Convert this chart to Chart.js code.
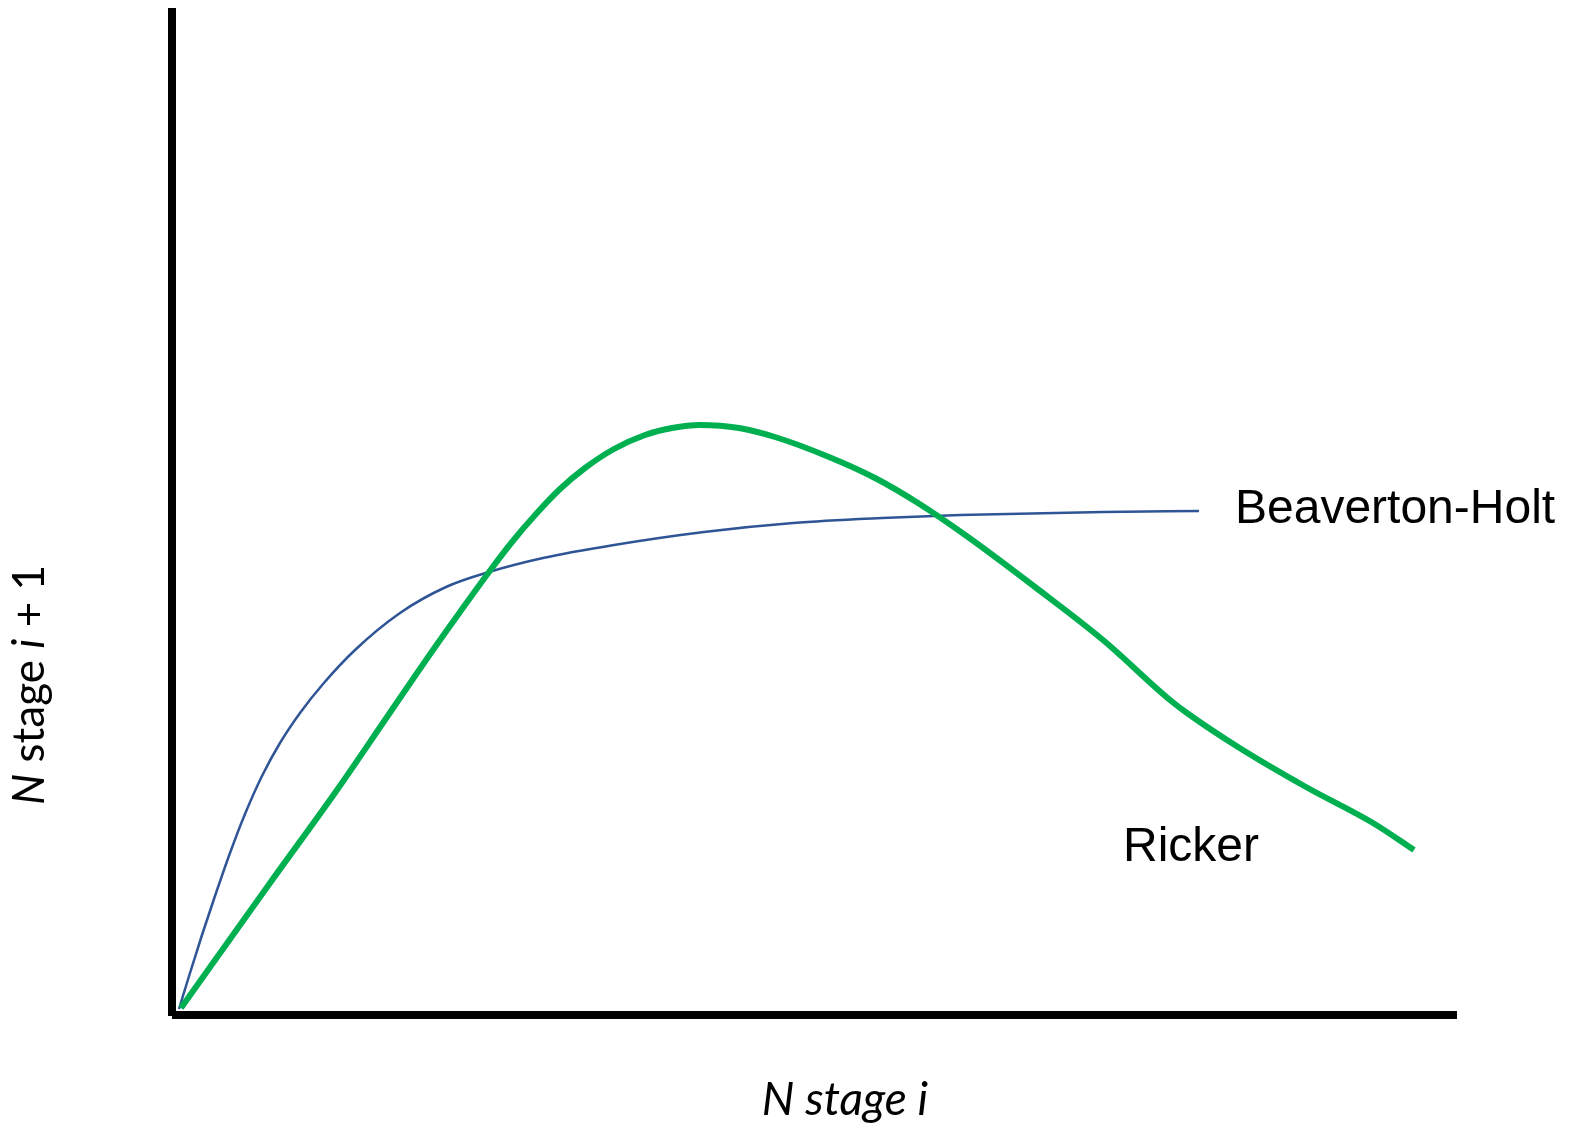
<!DOCTYPE html>
<html lang="en">
<head>
    <meta charset="UTF-8">
    <title>Stock-recruitment curves</title>
    <script src="https://cdn.jsdelivr.net/npm/chart.js"></script>
    <style>
        body {
            margin: 0;
            padding: 0;
            background-color: white;
        }
        #chart {
            display: block;
        }
    </style>
</head>
<body>
    <canvas id="chart" width="1570" height="1128"></canvas>
    <script>
        // values (arbitrary units, origin at the axes corner)
        const rickerX = [0.9, 9.8, 16.5, 21.5, 26.1, 28.8, 31.7, 34.0, 36.4, 38.8, 41.3, 44.2, 47.3, 50.0, 52.8, 56.7, 60.3, 65.7, 70.3, 74.6, 79.6, 86.3, 93.1, 99.8, 101.5, 106.6, 113.4, 120.1, 124.2];
        const rickerY = [0.6, 13.1, 22.4, 29.7, 36.4, 40.2, 44.2, 47.2, 50.0, 52.5, 54.6, 56.5, 57.9, 58.6, 58.9, 58.6, 57.7, 55.7, 53.6, 51.1, 47.7, 42.7, 37.4, 31.4, 30.1, 26.7, 22.7, 19.1, 16.4];
        const bhX = [0.7, 1.8, 3.0, 4.3, 5.8, 7.3, 9.0, 10.8, 12.8, 15.1, 18.3, 22.8, 27.4, 31.7, 37.1, 44.2, 53.2, 62.1, 71.0, 78.8, 93.1, 102.7];
        const bhY = [0.5, 4.1, 7.9, 11.8, 16.1, 20.0, 23.8, 27.1, 30.1, 33.0, 36.4, 40.1, 42.7, 44.2, 45.6, 46.9, 48.2, 49.1, 49.6, 49.9, 50.2, 50.3];

        const xMax = 128.4;
        const yMax = 100.6;

        function toPoints(xs, ys) {
            return xs.map((x, i) => ({ x: x, y: ys[i] }));
        }

        const axesAndText = {
            id: 'axesAndText',
            afterDraw(chart) {
                const ctx = chart.ctx;
                const area = chart.chartArea;
                ctx.save();
                ctx.fillStyle = '#000';
                // axis lines
                ctx.fillRect(area.left - 4, area.top, 8, area.bottom - area.top + 2);
                ctx.fillRect(area.left, area.bottom - 3, area.right - area.left + 1, 8);

                // curve labels
                ctx.font = '48px "Liberation Sans", Arial, sans-serif';
                ctx.textBaseline = 'alphabetic';
                ctx.textAlign = 'left';
                ctx.fillText('Beaverton-Holt', 1235, 523);
                ctx.fillText('Ricker', 1123, 861);

                // x axis title
                ctx.font = 'italic 46px Lato, sans-serif';
                ctx.textAlign = 'center';
                ctx.fillText('N stage i', 845, 1115);

                // y axis title, mixed italic
                const parts = [
                    ['N', 'italic 44px Lato, sans-serif'],
                    [' stage ', '44px Lato, sans-serif'],
                    ['i', 'italic 44px Lato, sans-serif'],
                    [' + 1', '44px Lato, sans-serif']
                ];
                let total = 0;
                parts.forEach(p => {
                    ctx.font = p[1];
                    total += ctx.measureText(p[0]).width;
                });
                ctx.translate(44, 685);
                ctx.rotate(-Math.PI / 2);
                ctx.textAlign = 'left';
                let x = -total / 2;
                parts.forEach(p => {
                    ctx.font = p[1];
                    ctx.fillText(p[0], x, 0);
                    x += ctx.measureText(p[0]).width;
                });
                ctx.restore();
            }
        };

        new Chart(document.getElementById('chart').getContext('2d'), {
            type: 'scatter',
            data: {
                datasets: [
                    {
                        label: 'Ricker',
                        data: toPoints(rickerX, rickerY),
                        showLine: true,
                        borderColor: '#00B050',
                        borderWidth: 6,
                        pointRadius: 0,
                        cubicInterpolationMode: 'monotone',
                        borderCapStyle: 'butt'
                    },
                    {
                        label: 'Beaverton-Holt',
                        data: toPoints(bhX, bhY),
                        showLine: true,
                        borderColor: '#2F5597',
                        borderWidth: 2.5,
                        pointRadius: 0,
                        cubicInterpolationMode: 'monotone'
                    }
                ]
            },
            options: {
                responsive: false,
                animation: false,
                layout: {
                    padding: { left: 172, right: 114, top: 8, bottom: 114 }
                },
                plugins: {
                    legend: { display: false },
                    tooltip: { enabled: false }
                },
                scales: {
                    x: { type: 'linear', min: 0, max: xMax, display: false },
                    y: { type: 'linear', min: 0, max: yMax, display: false }
                }
            },
            plugins: [axesAndText]
        });
    </script>
</body>
</html>
